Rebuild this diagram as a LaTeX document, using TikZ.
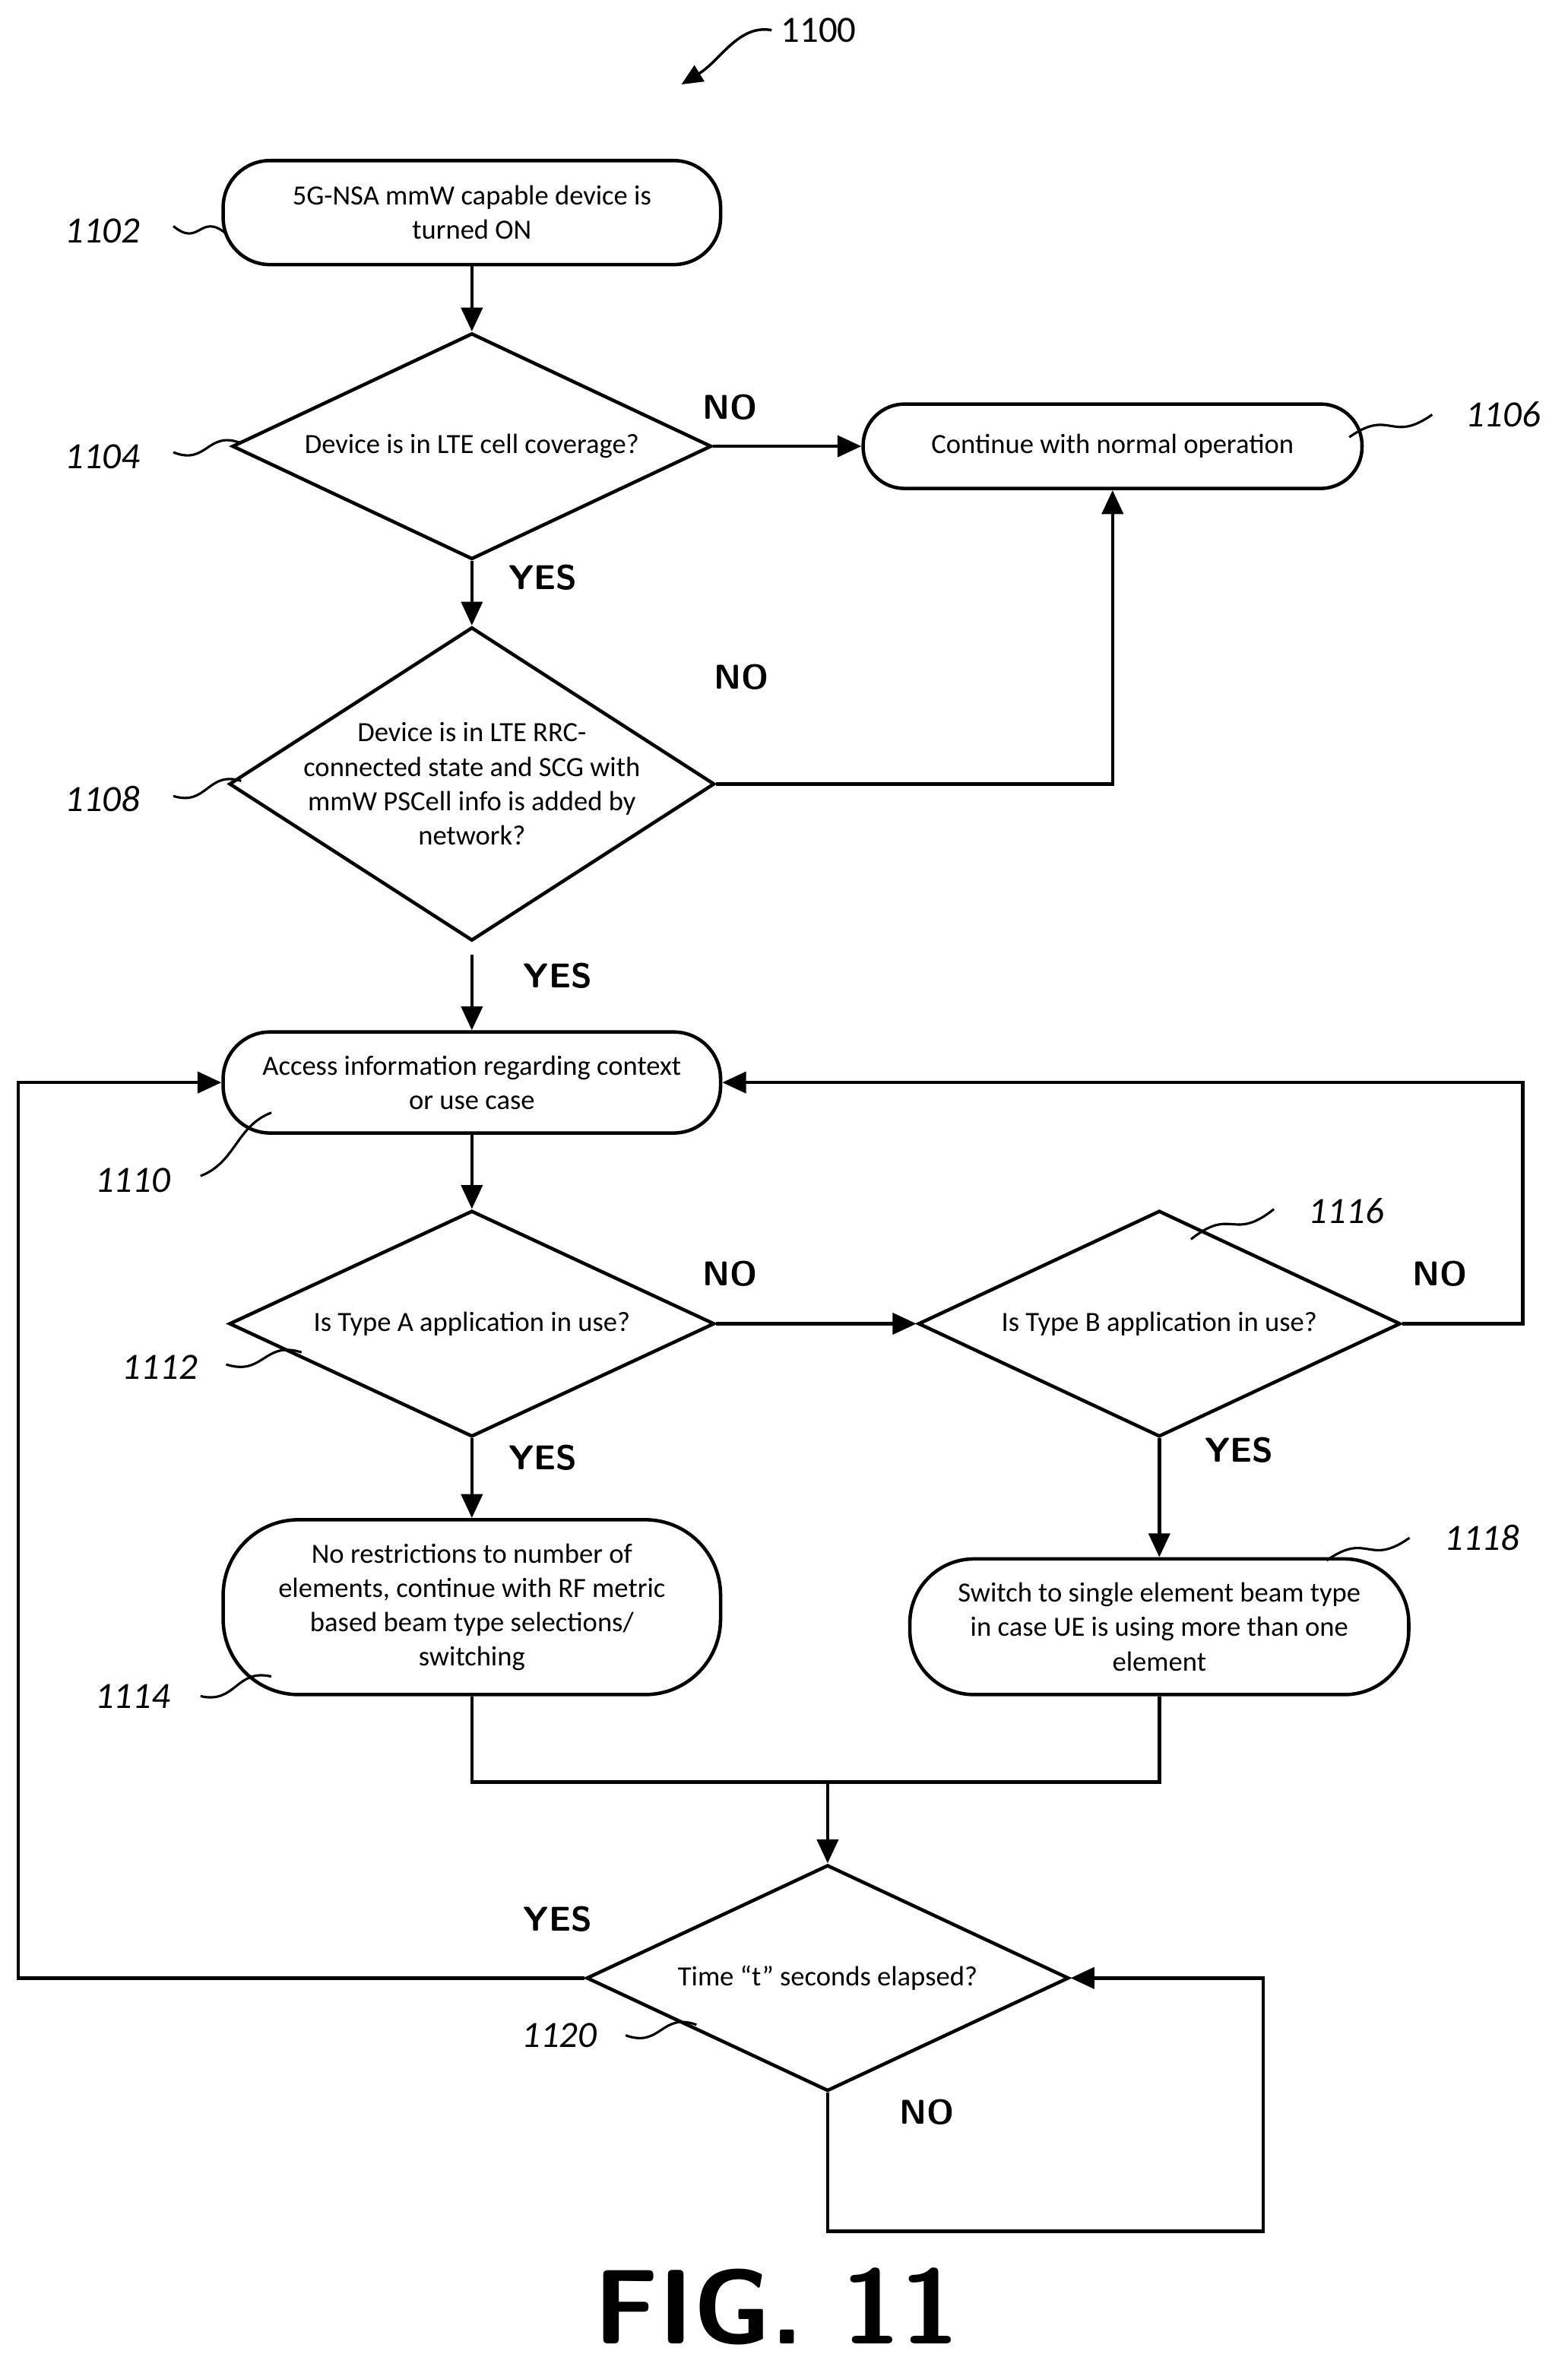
\documentclass[tikz,border=0pt]{standalone}
\usepackage{fontspec}
\setmainfont{Carlito}
\usetikzlibrary{shapes.geometric,arrows.meta,calc}

\tikzset{
	flow/.style={line width=1.3pt},
	arr/.style={flow, -{Triangle[length=9pt,width=8pt]}},
	term/.style={shape=rectangle, draw=black, line width=1.3pt, rounded corners=0.62cm, align=center, font=\fontsize{10.5}{13}\selectfont},
	dia/.style={shape=diamond, draw=black, line width=1.3pt, inner sep=0pt},
	dtext/.style={align=center, font=\fontsize{10.5}{13}\selectfont},
	yn/.style={font=\sffamily\bfseries\fontsize{13}{15}\selectfont},
	refnum/.style={font=\itshape\fontsize{14}{16}\selectfont},
}
\newcommand{\squig}[2]{\draw[line width=0.9pt] (#1) .. controls ($(#1)!0.5!(#2)+(0,12)$) and ($(#1)!0.5!(#2)+(0,-12)$) .. (#2);}

\begin{document}
\begin{tikzpicture}[x=0.02cm, y=-0.02cm]
	\useasboundingbox (0,0) rectangle (1040,1572);
	
	% blocks
	\node[term, minimum width=6.6cm, minimum height=1.38cm] (b1102) at (313,141) {5G-NSA mmW capable device is\\turned ON};
	\node[dia, minimum width=6.36cm, minimum height=3cm] (d1104) at (313,296) {};
	\node[dtext] at (d1104) {Device is in LTE cell coverage?};
	\node[term, minimum width=6.62cm, minimum height=1.12cm, rounded corners=0.55cm] (b1106) at (738,296) {Continue with normal operation};
	\node[dia, minimum width=6.44cm, minimum height=4.16cm] (d1108) at (313,520) {};
	\node[dtext] at (d1108) {Device is in LTE RRC-\\connected state and SCG with\\mmW PSCell info is added by\\network?};
	\node[term, minimum width=6.6cm, minimum height=1.34cm] (b1110) at (313,718) {Access information regarding context\\or use case};
	\node[dia, minimum width=6.44cm, minimum height=3cm] (d1112) at (313,878) {};
	\node[dtext] at (d1112) {Is Type A application in use?};
	\node[dia, minimum width=6.4cm, minimum height=3cm] (d1116) at (769,878) {};
	\node[dtext] at (d1116) {Is Type B application in use?};
	\node[term, minimum width=6.6cm, minimum height=2.32cm, rounded corners=1cm] (b1114) at (313,1066) {No restrictions to number of\\elements, continue with RF metric\\based beam type selections/\\switching};
	\node[term, minimum width=6.62cm, minimum height=1.8cm, rounded corners=0.85cm] (b1118) at (769,1079) {Switch to single element beam type\\in case UE is using more than one\\element};
	\node[dia, minimum width=6.4cm, minimum height=3cm] (d1120) at (549,1312) {};
	\node[dtext] at (d1120) {Time \textquotedblleft t\textquotedblright\ seconds elapsed?};
	\coordinate (join) at (549,1182);
	
	% connectors
	\draw[arr] (b1102) -- (d1104);
	\draw[arr] (d1104.east) -- (b1106.west);
	\draw[arr] (d1104.south) -- (d1108.north);
	\draw[arr] (d1108.east) -| (b1106.south);
	\draw[arr] ($(d1108.south)+(0,8)$) -- (b1110.north);
	\draw[arr] (b1110) -- (d1112);
	\draw[arr] (d1112.east) -- (d1116.west);
	\draw[arr] (d1116.east) -- (1010,878) |- (b1110.east);
	\draw[arr] (d1112.south) -- (b1114.north);
	\draw[arr] (d1116.south) -- (b1118.north);
	\draw[flow] (b1114.south) |- (join) -| (b1118.south);
	\draw[arr] (join) -- (d1120.north);
	\draw[arr] (d1120.west) -- (12,1312) |- (b1110.west);
	\draw[arr] (d1120.south) -- (549,1480) -| (838,1312) -- (d1120.east);
	
	% yes/no
	\node[yn] at (484,270) {NO};
	\node[yn] at (360,383) {YES};
	\node[yn] at (492,449) {NO};
	\node[yn] at (370,647) {YES};
	\node[yn] at (484,845) {NO};
	\node[yn] at (955,845) {NO};
	\node[yn] at (360,967) {YES};
	\node[yn] at (822,962) {YES};
	\node[yn] at (370,1273) {YES};
	\node[yn] at (615,1401) {NO};
	
	% reference numerals
	\node[font=\fontsize{14}{16}\selectfont] (n1100) at (543,20) {1100};
	\coordinate (t1100) at (452,56);
	\draw[-{Triangle[length=8pt,width=7pt]}, line width=1pt] (n1100.west) .. controls (490,16) and (478,40) .. (t1100);
	\node[refnum] at (68,153) {1102};   \squig{115,150}{150,155}
	\node[refnum] at (68,303) {1104};   \squig{115,300}{160,294}
	\node[refnum] at (997,275) {1106};  \squig{950,275}{895,290}
	\node[refnum] at (68,530) {1108};   \squig{115,528}{160,518}
	\node[refnum] at (88,783) {1110};   \squig{133,780}{180,738}
	\node[refnum] at (106,907) {1112};  \squig{150,905}{200,897}
	\node[refnum] at (88,1125) {1114};  \squig{133,1125}{180,1112}
	\node[refnum] at (893,803) {1116};  \squig{845,802}{790,822}
	\node[refnum] at (983,1020) {1118}; \squig{935,1020}{880,1035}
	\node[refnum] at (371,1350) {1120}; \squig{415,1350}{462,1343}
	
	\node[font=\sffamily\bfseries\fontsize{40}{44}\selectfont] at (515,1530) {FIG. 11};
	
\end{tikzpicture}
\end{document}
